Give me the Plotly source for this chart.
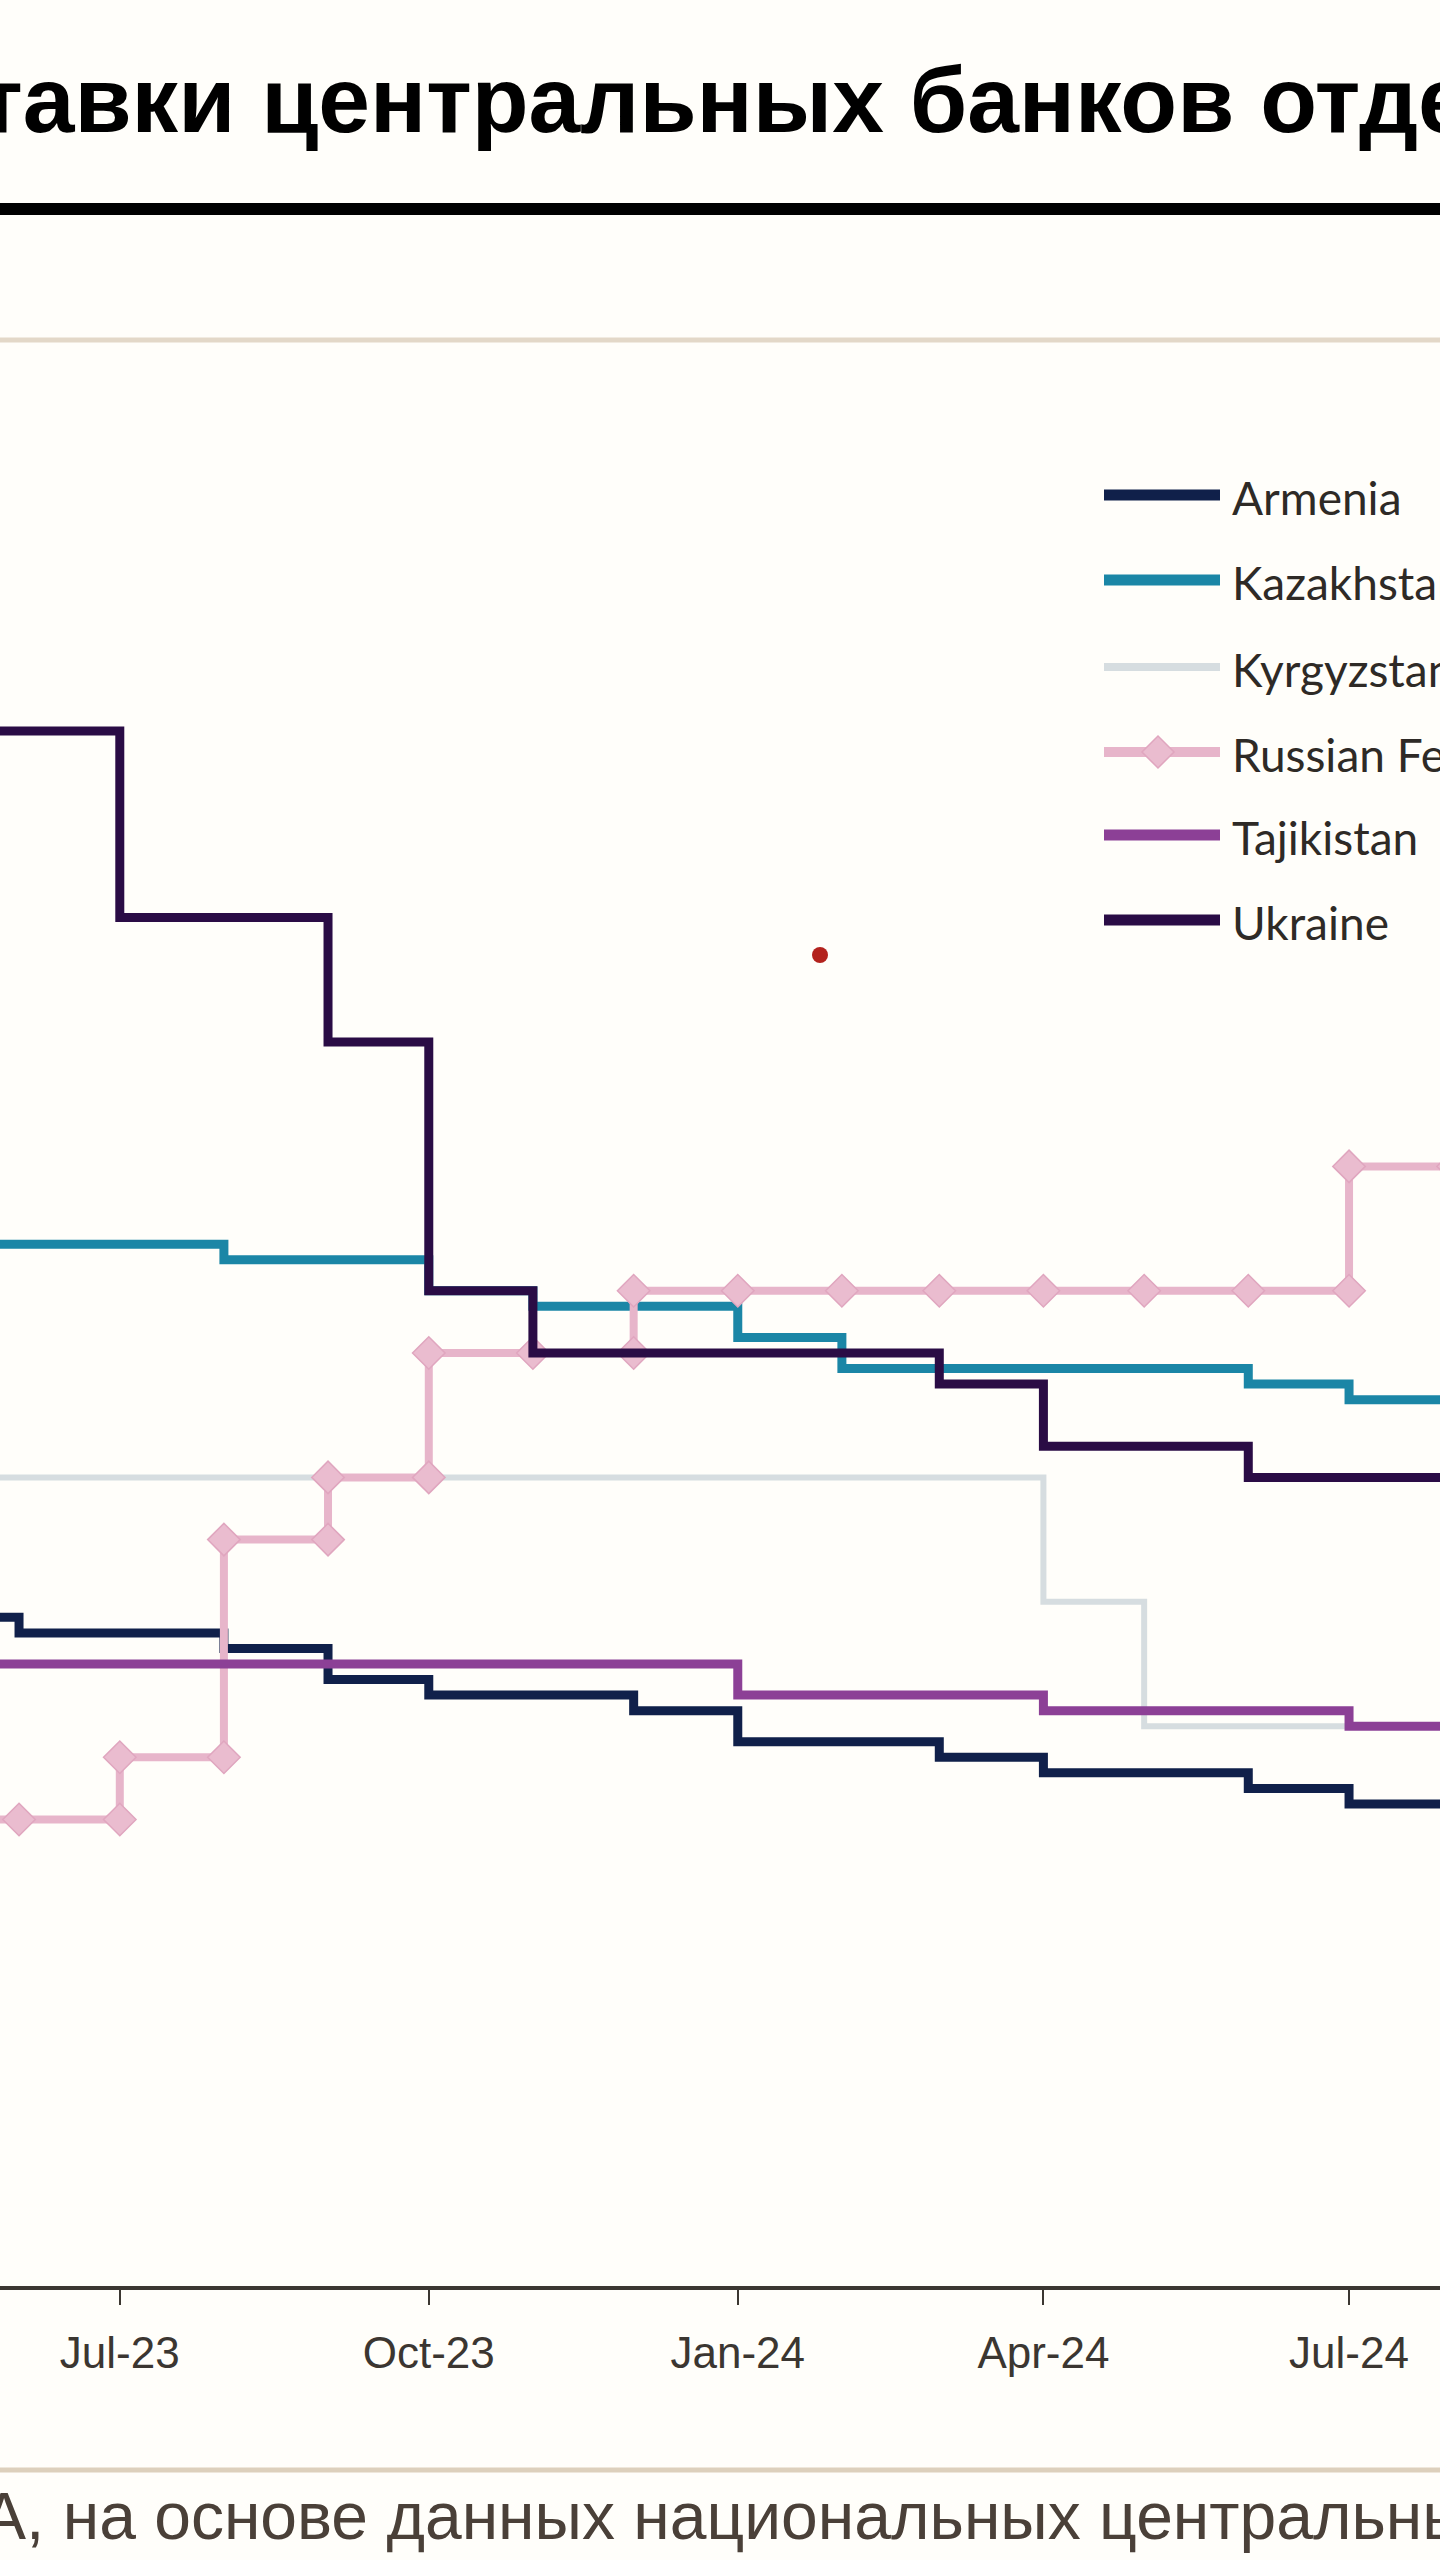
import plotly.graph_objects as go

# monthly policy rates, %, first day of each month
months = ["2023-05-01", "2023-06-01", "2023-07-01", "2023-08-01", "2023-09-01",
          "2023-10-01", "2023-11-01", "2023-12-01", "2024-01-01", "2024-02-01",
          "2024-03-01", "2024-04-01", "2024-05-01", "2024-06-01", "2024-07-01",
          "2024-08-01"]

armenia = [10.75, 10.5, 10.5, 10.25, 9.75, 9.5, 9.5, 9.25, 8.75, 8.75, 8.5, 8.25, 8.25, 8.0, 7.75, 7.75]
kazakhstan = [16.75, 16.75, 16.75, 16.5, 16.5, 16.0, 15.75, 15.75, 15.25, 14.75, 14.75, 14.75, 14.75, 14.5, 14.25, 14.25]
kyrgyzstan = [13, 13, 13, 13, 13, 13, 13, 13, 13, 13, 13, 11, 9, 9, 9, 9]
russia = [7.5, 7.5, 8.5, 12, 13, 15, 15, 16, 16, 16, 16, 16, 16, 16, 18, 18]
tajikistan = [10, 10, 10, 10, 10, 10, 10, 10, 9.5, 9.5, 9.5, 9.25, 9.25, 9.25, 9.0, 9.0]
ukraine = [25, 25, 22, 22, 20, 16, 15, 15, 15, 15, 14.5, 13.5, 13.5, 13, 13, 13]

tick_dates = ["2023-07-01", "2023-10-01", "2024-01-01", "2024-04-01", "2024-07-01"]
tick_labels = ["Jul-23", "Oct-23", "Jan-24", "Apr-24", "Jul-24"]

names = ["Armenia", "Kazakhstan", "Kyrgyzstan", "Russian Federation", "Tajikistan", "Ukraine"]
colors = ["#10204a", "#1b86a6", "#d6dde0", "#e7b5ca", "#8c4096", "#2a0c45"]
widths = [9, 9, 6, 8, 9, 9]
values = [armenia, kazakhstan, kyrgyzstan, russia, tajikistan, ukraine]

title = "Ставки центральных банков отдельных стран"
source = "А, на основе данных национальных центральных банков"

W, H = 1440, 2560
TOP, BOTTOM = 420, 2286
PH = BOTTOM - TOP


def xp(px):
    return px / W


def yp(px):
    return (BOTTOM - px) / PH


fig = go.Figure()

for name, vals, col, w in zip(names, values, colors, widths):
    if name == "Russian Federation":
        fig.add_trace(go.Scatter(
            x=months, y=vals, mode="lines+markers", name=name,
            line=dict(color=col, width=w, shape="hv"),
            marker=dict(symbol="diamond", size=25, color="#eabccf",
                        line=dict(color="#e0a6bf", width=1.5))))
        # the lower corner of every step also carries a marker
        cx, cy = [], []
        for i in range(1, len(vals)):
            if vals[i] != vals[i - 1]:
                cx.append(months[i])
                cy.append(vals[i - 1])
        fig.add_trace(go.Scatter(
            x=cx, y=cy, mode="markers", showlegend=False,
            marker=dict(symbol="diamond", size=25, color="#eabccf",
                        line=dict(color="#e0a6bf", width=1.5))))
    else:
        fig.add_trace(go.Scatter(
            x=months, y=vals, mode="lines", name=name,
            line=dict(color=col, width=w, shape="hv")))

shapes = [
    # rule under the title
    dict(type="line", xref="paper", yref="paper", x0=-0.01, x1=1.01,
         y0=yp(209), y1=yp(209), line=dict(color="#000000", width=12)),
    # thin beige rules
    dict(type="line", xref="paper", yref="paper", x0=-0.01, x1=1.01,
         y0=yp(340), y1=yp(340), line=dict(color="#e3d8c8", width=5)),
    dict(type="line", xref="paper", yref="paper", x0=-0.01, x1=1.01,
         y0=yp(2470), y1=yp(2470), line=dict(color="#ddd0bc", width=5)),
    # small red dot
    dict(type="circle", xref="paper", yref="paper",
         x0=xp(812), x1=xp(828), y0=yp(963), y1=yp(947),
         fillcolor="#b3221d", line=dict(width=0)),
]

annotations = [
    dict(text="<b>" + title + "</b>", xref="paper", yref="paper",
         x=xp(-92), y=yp(100),
         xanchor="left", yanchor="middle", showarrow=False,
         font=dict(family="Liberation Sans, Arial", size=93, color="#000000")),
    dict(text=source, xref="paper", yref="paper", x=xp(-20), y=yp(2516),
         xanchor="left", yanchor="middle", showarrow=False,
         font=dict(family="Liberation Sans, Arial", size=66, color="#4a4038")),
]

# legend drawn by hand so the sample lines are long
leg_y = [495, 580, 667, 752, 835, 920]
for name, col, w, ly in zip(names, colors, widths, leg_y):
    shapes.append(dict(type="line", xref="paper", yref="paper",
                       x0=xp(1104), x1=xp(1220), y0=yp(ly), y1=yp(ly),
                       line=dict(color=col, width=w + 2)))
    if name == "Russian Federation":
        cx, cy, r = 1158, ly, 16
        shapes.append(dict(
            type="path", xref="paper", yref="paper",
            path=f"M {xp(cx - r)},{yp(cy)} L {xp(cx)},{yp(cy - r)} "
                 f"L {xp(cx + r)},{yp(cy)} L {xp(cx)},{yp(cy + r)} Z",
            fillcolor="#eabccf", line=dict(color="#e0a6bf", width=1.5)))
    annotations.append(dict(
        text=name, xref="paper", yref="paper", x=xp(1230), y=yp(ly + 2),
        xanchor="left", yanchor="middle", showarrow=False,
        font=dict(family="Lato, Liberation Sans", size=46, color="#2e2a26")))

fig.update_layout(
    width=W, height=H,
    margin=dict(l=0, r=0, t=TOP, b=H - BOTTOM),
    paper_bgcolor="#fffefa",
    plot_bgcolor="#fffefa",
    showlegend=False,
    shapes=shapes,
    annotations=annotations,
    xaxis=dict(
        type="date",
        range=["2023-05-26 08:00", "2024-07-28 02:00"],
        tickvals=tick_dates, ticktext=tick_labels,
        showgrid=False, zeroline=False,
        showline=True, linecolor="#3b3731", linewidth=4,
        ticks="outside", ticklen=15, tickwidth=2, tickcolor="#3b3731",
        ticklabelstandoff=10,
        tickfont=dict(family="Liberation Sans, Arial", size=44, color="#3b3631"),
    ),
    yaxis=dict(range=[0, 30], visible=False, showgrid=False, zeroline=False),
)

fig.write_html("out.html", config={"displayModeBar": False},
               post_script="document.body.style.margin='0';")
